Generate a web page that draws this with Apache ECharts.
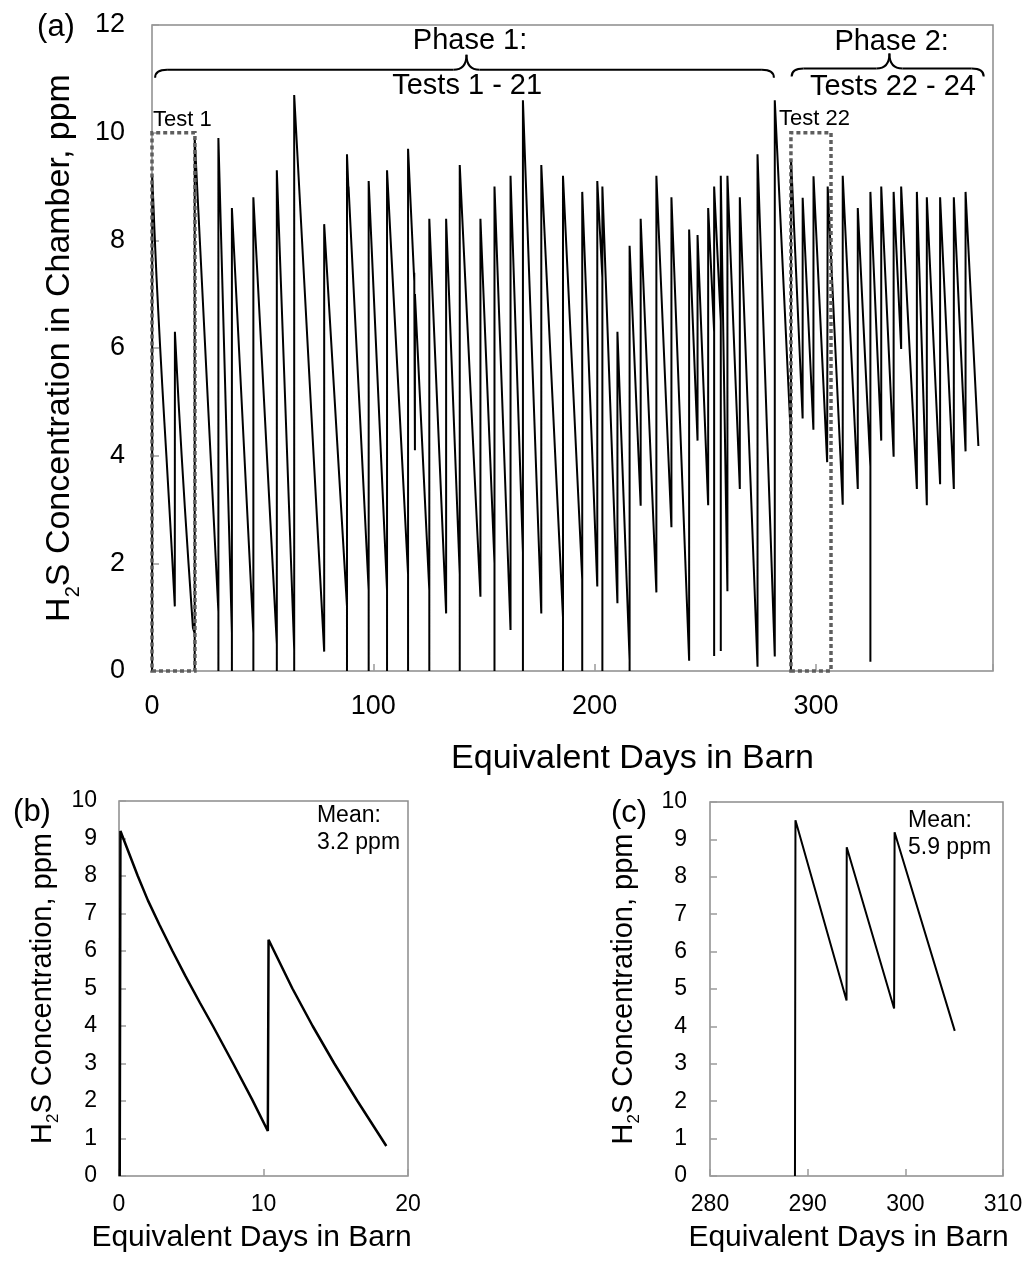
<!DOCTYPE html>
<html><head><meta charset="utf-8">
<script src="https://cdn.jsdelivr.net/npm/echarts@6/dist/echarts.min.js"></script>
<style>html,body{margin:0;padding:0;background:#fff}#c{width:1032px;height:1277px}</style>
</head><body><div id="c"></div>
<script>
// ---------------- DATA ----------------
// Test 1 (panel b), equivalent days vs ppm
const test1Day = [0.05, 0.1, 0.7, 1.3, 2.0, 2.8, 3.7, 4.6, 5.6, 6.5, 7.9, 9.2, 10.3, 10.35, 12.0, 13.4, 14.9, 16.5, 18.5];
const test1Ppm = [0, 9.2, 8.6, 8.0, 7.35, 6.7, 6.0, 5.33, 4.62, 4.0, 3.0, 2.05, 1.2, 6.3, 5.0, 4.0, 3.0, 2.0, 0.8];
// Test 22 (panel c)
const test22Day = [288.7, 288.75, 293.98, 294.0, 298.85, 298.9, 305.06];
const test22Ppm = [0, 9.51, 4.69, 8.79, 4.48, 9.19, 3.88];
// Phase 1 (after test 1): refill events – day, value just before, floor (reset level or null), value after
const p1Day   = [19.3, 30.0, 36.1, 45.8, 56.4, 64.25, 77.8, 88.1, 88.8, 97.9, 106.2, 115.7, 118.5, 118.8, 125.3, 132.9, 139.05, 148.4, 154.75, 162.0, 167.6, 175.9, 185.7, 194.4, 201.2, 203.5, 210.3, 215.8, 220.8, 227.9, 234.7, 242.7, 246.5, 251.3, 254.0, 257.0, 260.0, 265.6, 273.6, 281.4];
const p1Low   = [0.7, 1.1, 0.7, 0.7, 0.5, 0.4, 0.36, 1.2, 8.9, 1.5, 1.5, 1.8, 7.25, 4.1, 1.5, 1.07, 1.8, 1.38, 2.0, 0.76, 2.2, 1.07, 1.0, 1.7, 1.57, 7.3, 1.26, 0.2, 3.07, 1.46, 2.67, 0.19, 4.28, 3.08, 6.3, 6.5, 1.48, 3.38, 0.08, 0.27];
const p1Floor = [0, 0, 0, 0, 0, 0, null, 0, null, 0, 0, 0, null, null, 0, null, 0, null, 0, null, 0, null, 0, 0, null, 0, null, 0, null, null, null, null, null, null, 0.28, 0.37, null, null, null, null];
const p1Peak  = [9.9, 9.9, 8.6, 8.8, 9.3, 10.7, 8.3, 9.6, 9.0, 9.1, 9.3, 9.7, 7.4, 7.0, 8.4, 8.4, 9.4, 8.4, 9.0, 9.2, 10.6, 9.4, 9.2, 8.9, 9.1, 9.0, 6.3, 7.9, 8.4, 9.2, 8.8, 8.2, 8.1, 8.6, 9.0, 9.2, 9.2, 8.8, 9.6, 10.6];
const test22LeadLow = 4.3;
// Phase 2 (after test 22)
const p2Day   = [305.3, 312.1, 318.9, 324.6, 329.5, 335.1, 338.5, 345.6, 350.1, 356.1, 362.3, 367.6];
const p2Low   = [3.85, 3.09, 3.38, 3.8, 4.28, 3.98, 5.98, 3.38, 3.08, 3.47, 3.38, 4.08];
const p2Floor = [null, null, null, 0.17, null, null, null, null, null, null, null, null];
const p2Peak  = [9.0, 9.2, 8.6, 8.9, 9.0, 8.9, 9.0, 8.9, 8.8, 8.8, 8.8, 8.9];
const endDay = 373.4, endPpm = 4.18;
const meanB = 'Mean:\n3.2 ppm';
const meanC = 'Mean:\n5.9 ppm';

// ---------------- BUILD ----------------
function addEvents(pts, days, lows, floors, peaks) {
  days.forEach((d, i) => {
    pts.push([d, lows[i]]);
    if (floors[i] !== null) pts.push([d, floors[i]]);
    pts.push([d, peaks[i]]);
  });
}
const mainPts = test1Day.map((d, i) => [d, test1Ppm[i]]);
addEvents(mainPts, p1Day, p1Low, p1Floor, p1Peak);
mainPts.push([test22Day[0], test22LeadLow]);
test22Day.forEach((d, i) => mainPts.push([d, test22Ppm[i]]));
addEvents(mainPts, p2Day, p2Low, p2Floor, p2Peak);
mainPts.push([endDay, endPpm]);

const bPts = test1Day.map((d, i) => [d, test1Ppm[i]]);
const cPts = test22Day.map((d, i) => [d, test22Ppm[i]]);

const FONT = '"Liberation Sans", Arial, Helvetica, sans-serif';
const tickStyle = {inside: true, length: 7, lineStyle: {color: '#9a9a9a', width: 1.5}};
function gridCfg(l, t, w, h) {
  return {left: l, top: t, width: w, height: h, show: true, borderColor: '#8c8c8c', borderWidth: 1.5, backgroundColor: 'rgba(0,0,0,0)'};
}
function yName(text, fs, sub, lh) {
  return {
    name: '{n|H}{s|2}{z|\u200b}{n|' + text + '}',
    nameTextStyle: {fontFamily: FONT, color: '#000', rich: {
      n: {fontSize: fs, lineHeight: fs, verticalAlign: 'top', fontFamily: FONT, color: '#000'},
      s: {fontSize: sub, lineHeight: sub, verticalAlign: 'bottom', fontFamily: FONT, color: '#000'},
      z: {fontSize: fs, lineHeight: lh}
    }}
  };
}
function axisBase(gi, min, max, interval, fs, margin) {
  return {gridIndex: gi, type: 'value', min: min, max: max, interval: interval,
    axisLine: {show: false}, axisTick: tickStyle, splitLine: {show: false},
    axisLabel: {fontSize: fs, color: '#000', fontFamily: FONT, margin: margin}};
}

const xA = Object.assign(axisBase(0, 0, 380, 100, 27, 22), {name: 'Equivalent Days in Barn', nameLocation: 'middle', nameGap: 71,
  nameTextStyle: {fontSize: 34, color: '#000', fontFamily: FONT, padding: [0, 0, 0, 120]}});
xA.axisLabel.formatter = v => (v % 100 === 0 ? String(v) : '');
const yA = Object.assign(axisBase(0, 0, 12, 2, 27, 27), {nameLocation: 'middle', nameGap: 69}, yName('S Concentration in Chamber, ppm', 34, 20, 40));
const xB = Object.assign(axisBase(1, 0, 20, 10, 23, 17), {name: 'Equivalent Days in Barn', nameLocation: 'middle', nameGap: 47,
  nameTextStyle: {fontSize: 30, color: '#000', fontFamily: FONT, padding: [0, 24, 0, 0]}});
const yB = Object.assign(axisBase(1, 0, 10, 1, 23, 22), {nameLocation: 'middle', nameGap: 57}, yName('S Concentration, ppm', 29, 17, 34));
const xC = Object.assign(axisBase(2, 280, 310, 10, 23, 17), {name: 'Equivalent Days in Barn', nameLocation: 'middle', nameGap: 47,
  nameTextStyle: {fontSize: 30, color: '#000', fontFamily: FONT, padding: [0, 16, 0, 0]}});
const yC = Object.assign(axisBase(2, 0, 10, 1, 23, 23), {nameLocation: 'middle', nameGap: 67}, yName('S Concentration, ppm', 29, 17, 34));

const boxStyle = {color: 'rgba(0,0,0,0)', borderColor: '#5e5e5e', borderWidth: 3.5, borderType: [4, 3]};
const option = {
  animation: false,
  backgroundColor: '#fff',
  grid: [gridCfg(152, 25, 841, 646), gridCfg(119, 801, 289, 375), gridCfg(710, 802, 293, 374)],
  xAxis: [xA, xB, xC],
  yAxis: [yA, yB, yC],
  series: [
    {type: 'line', xAxisIndex: 0, yAxisIndex: 0, data: mainPts, showSymbol: false, symbol: 'none',
     lineStyle: {color: '#000', width: 2}, z: 3,
     markArea: {silent: true, itemStyle: boxStyle, z: 4,
       data: [[{xAxis: 0, yAxis: 0}, {xAxis: 19.4, yAxis: 10}], [{xAxis: 288.7, yAxis: 0}, {xAxis: 306.8, yAxis: 10}]]}},
    {type: 'line', xAxisIndex: 1, yAxisIndex: 1, data: bPts, showSymbol: false, symbol: 'none', lineStyle: {color: '#000', width: 2.5}},
    {type: 'line', xAxisIndex: 2, yAxisIndex: 2, data: cPts, showSymbol: false, symbol: 'none', lineStyle: {color: '#000', width: 2}}
  ]
};

const chart = echarts.init(document.getElementById('c'), null, {renderer: 'canvas'});
chart.setOption(option);

// ---------------- ANNOTATIONS ----------------
const P = (gi, x, y) => chart.convertToPixel({xAxisIndex: gi, yAxisIndex: gi}, [x, y]);
function txt(p, text, size, align, lh) {
  return {type: 'text', x: p[0], y: p[1], z: 10, style: {text: text, font: size + 'px ' + FONT, fill: '#000',
    align: align, textAlign: align, verticalAlign: 'middle', textVerticalAlign: 'middle', lineHeight: lh || size}};
}
const braceStyle = {stroke: '#000', fill: null, lineWidth: 2};
function seg(x1, y1, x2, y2) {
  return {type: 'line', z: 10, shape: {x1: x1, y1: y1, x2: x2, y2: y2}, style: braceStyle};
}
function curve(x1, y1, cx, cy, x2, y2) {
  return {type: 'bezierCurve', z: 10, shape: {x1: x1, y1: y1, cpx1: cx, cpy1: cy, x2: x2, y2: y2}, style: braceStyle};
}
function brace(gi, from, to, tip, level) {
  const a = P(gi, from, level), b = P(gi, to, level), c = P(gi, tip, level);
  const y = a[1], w = 12, h = 8, tw = 13, th = 15;
  return [
    curve(a[0], y + h, a[0], y, a[0] + w, y),
    seg(a[0] + w, y, c[0] - tw, y),
    curve(c[0] - tw, y, c[0], y, c[0], y - th),
    curve(c[0], y - th, c[0], y, c[0] + tw, y),
    seg(c[0] + tw, y, b[0] - w, y),
    curve(b[0] - w, y, b[0], y, b[0], y + h)
  ];
}
const g0 = P(0, 0, 12), g1 = P(1, 0, 10), g2 = P(2, 280, 10);
const graphics = [
  txt([g0[0] - 96, g0[1] + 2], '(a)', 31, 'center'),
  txt([g1[0] - 87, g1[1] + 11], '(b)', 31, 'center'),
  txt([g2[0] - 81, g2[1] + 11], '(c)', 31, 'center'),
  ...brace(0, 1.4, 281.0, 142.1, 11.17),
  ...brace(0, 289.0, 375.8, 333.2, 11.19),
  txt(P(0, 143.7, 11.70), 'Phase 1:', 29, 'center'),
  txt(P(0, 142.4, 10.86), 'Tests 1 - 21', 29, 'center'),
  txt(P(0, 334.2, 11.68), 'Phase 2:', 29, 'center'),
  txt(P(0, 334.8, 10.85), 'Tests 22 - 24', 29, 'center'),
  txt(P(0, 0.45, 10.24), 'Test 1', 22, 'left'),
  txt(P(0, 283.3, 10.26), 'Test 22', 22, 'left'),
  txt(P(1, 13.7, 9.26), meanB, 23, 'left', 27),
  txt(P(2, 300.27, 9.15), meanC, 23, 'left', 27)
];
chart.setOption({graphic: graphics});
</script></body></html>
